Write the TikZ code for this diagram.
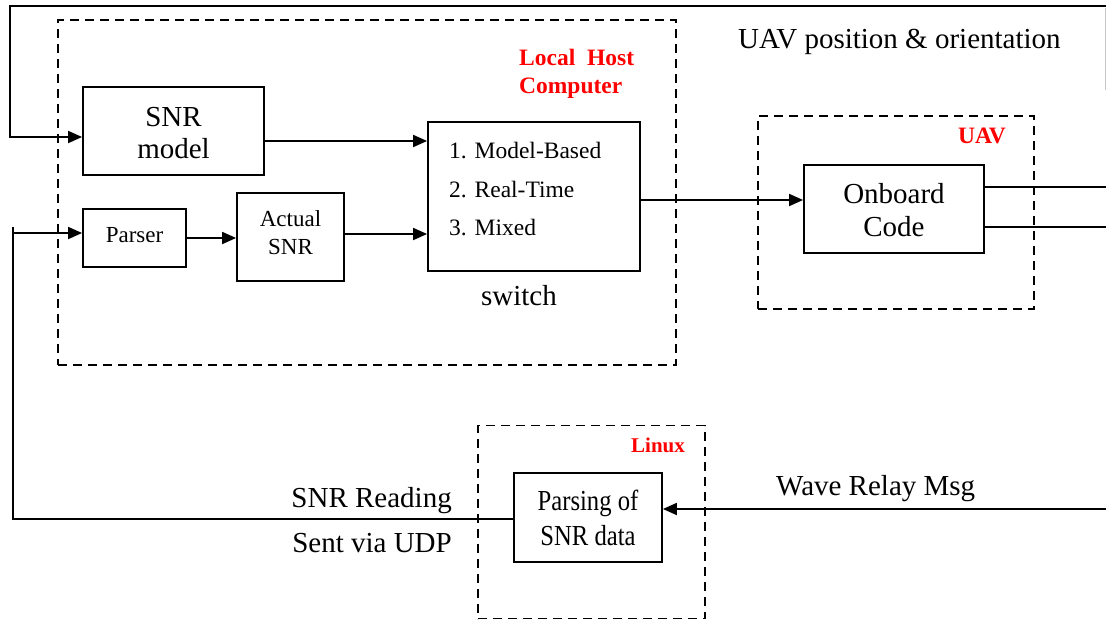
\documentclass[tikz,border=0pt]{standalone}
\usepackage{fontspec}
\setmainfont{Liberation Serif}
\newfontfamily\condserif[FakeStretch=0.85]{Liberation Serif}
\usetikzlibrary{arrows.meta}
\begin{document}
\begin{tikzpicture}[x=1pt,y=-1pt,
  box/.style={draw,line width=1.8pt,inner sep=0pt},
  grp/.style={draw,line width=1.8pt,dash pattern=on 9pt off 6pt,inner sep=0pt},
  conn/.style={line width=1.8pt},
  arr/.style={conn,-{Triangle[length=14pt,width=12pt]}},
  big/.style={inner sep=0pt,anchor=base,font=\fontsize{29}{34}\selectfont},
  mid/.style={inner sep=0pt,anchor=base,font=\fontsize{23}{28}\selectfont},
  cond/.style={inner sep=0pt,anchor=base,font=\condserif\fontsize{29}{34}\selectfont},
  item/.style={inner sep=0pt,anchor=base west,font=\fontsize{23.5}{28}\selectfont},
  grplbl/.style={inner sep=0pt,anchor=base,text=red,font=\bfseries\fontsize{23.5}{28}\selectfont}
]
\useasboundingbox (0,0) rectangle (1106,621);
% group frames
\node[grp,minimum width=618pt,minimum height=345pt] (lhc) at (367,192.5) {};
\node[grp,minimum width=276pt,minimum height=193pt] (uavg) at (896,212.5) {};
\node[grp,minimum width=227pt,minimum height=193pt] (linuxg) at (591.5,522) {};
% group labels
\node[grplbl,anchor=base west] (lhcl1) at (519,65) {Local~ Host};
\node[grplbl,anchor=base west] (lhcl2) at (519,93) {Computer};
\node[grplbl] (uavl) at (982,143) {UAV};
\node[grplbl,font=\bfseries\fontsize{21}{26}\selectfont] (linuxl) at (658,452) {Linux};
% boxes
\node[box,minimum width=181pt,minimum height=88pt] (snr) at (173.5,131) {};
\node[big] (snrT1) at (173.5,126) {SNR};
\node[big] (snrT2) at (173.5,158) {model};
\node[box,minimum width=103pt,minimum height=58pt] (parser) at (134.5,238) {};
\node[mid] (parserT) at (134.5,242) {Parser};
\node[box,minimum width=107pt,minimum height=88pt] (actual) at (290.5,237) {};
\node[mid] (actualT1) at (290.5,226) {Actual};
\node[mid] (actualT2) at (290.5,254) {SNR};
\node[box,minimum width=212pt,minimum height=149pt] (sw) at (534,196.5) {};
\node[item] (i1) at (449,158) {1. Model-Based};
\node[item] (i2) at (449,197) {2. Real-Time};
\node[item] (i3) at (449,235) {3. Mixed};
\node[big] (swl) at (519,305) {switch};
\node[box,minimum width=180pt,minimum height=88pt] (onb) at (894,209) {};
\node[big] (onbT1) at (894,203) {Onboard};
\node[big] (onbT2) at (894,236) {Code};
\node[box,minimum width=148pt,minimum height=89pt] (pars) at (588,517.5) {};
\node[cond] (parsT1) at (588,510) {Parsing of};
\node[cond] (parsT2) at (588,545) {SNR data};
% free labels
\node[big,anchor=base west] (uavpos) at (738,48) {UAV position \& orientation};
\node[big,anchor=base east] (snrr) at (452,507) {SNR Reading};
\node[big,anchor=base east] (udp) at (452,552) {Sent via UDP};
\node[big,anchor=base west] (wrm) at (776,495) {Wave Relay Msg};
% coordinates for free ends
\coordinate (tr) at (1106,6);
\coordinate (tl) at (10,6);
\coordinate (in1) at (10,137);
\coordinate (bl) at (13,519);
\coordinate (blt) at (13,227);
\coordinate (in2) at (13,233);
\coordinate (o1) at (1106,187);
\coordinate (o2) at (1106,227);
\coordinate (wr) at (1106,509);
\coordinate (edgeA) at (1105.5,8);
\coordinate (edgeB) at (1105.5,90);
% connectors
\draw[arr] (tr) -- (tl) -- (in1) -- (in1 -| snr.west);
\draw[gray!45,line width=1pt] (edgeA) -- (edgeB);
\draw[arr] (snr.east |- 0,141) -- (sw.west |- 0,141);
\draw[arr] (parser.east) -- (parser.east -| actual.west);
\draw[arr] (actual.east |- 0,234) -- (sw.west |- 0,234);
\draw[arr] (sw.east |- 0,200) -- (onb.west |- 0,200);
\draw[conn] (onb.east |- 0,187) -- (o1);
\draw[conn] (onb.east |- 0,227) -- (o2);
\draw[arr] (wr) -- (wr -| pars.east);
\draw[conn] (pars.west |- 0,519) -- (bl) -- (blt);
\draw[arr] (in2) -- (in2 -| parser.west);
\end{tikzpicture}
\end{document}
